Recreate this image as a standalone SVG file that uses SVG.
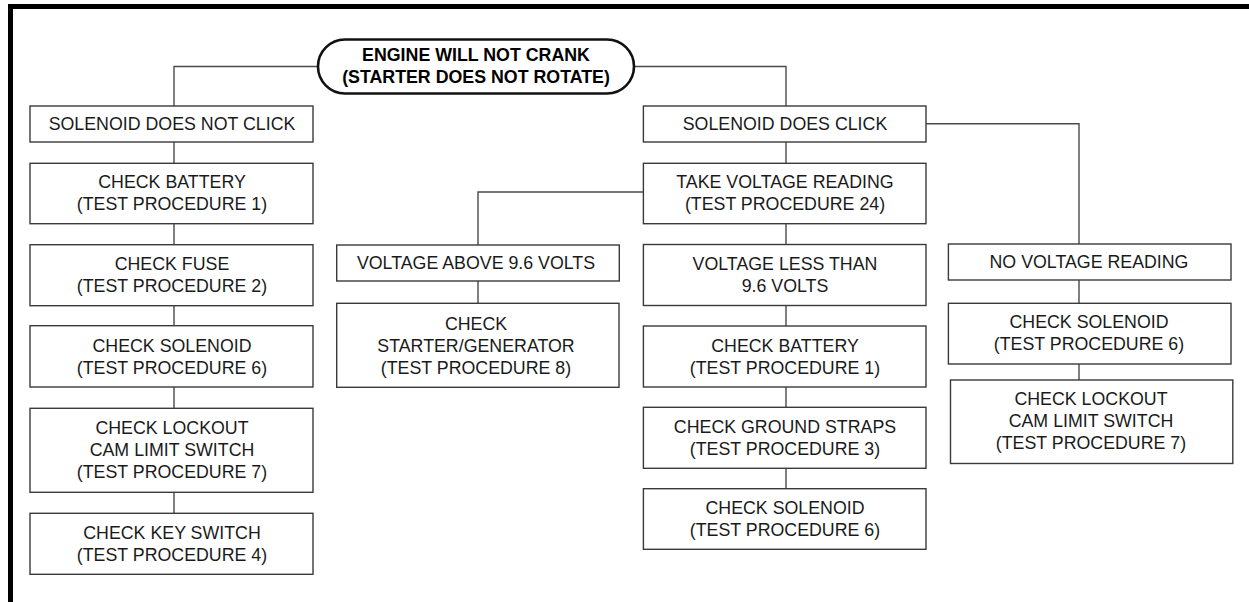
<svg xmlns="http://www.w3.org/2000/svg" width="1249" height="602" viewBox="0 0 1249 602">
<style>
.box{fill:#fff;stroke:#3a3a3a;stroke-width:1.4}
.pill{fill:#fff;stroke:#111;stroke-width:2.6}
.t{font-family:"Liberation Sans",Arial,sans-serif;font-size:17.8px;fill:#1a1a1a;text-anchor:middle}
.b{font-weight:bold;fill:#000}
.conn path{fill:none;stroke:#4a4a4a;stroke-width:1.4}
</style>
<rect x="0" y="0" width="1249" height="602" fill="#fff"/>
<rect x="8" y="4" width="1241" height="5" fill="#000"/>
<rect x="8" y="4" width="5" height="598" fill="#000"/>
<g id="connectors" class="conn">
<path d="M318 66.5H174V106"/>
<path d="M634 66.5H786V106"/>
<path d="M174 142V163.3M174 223.7V244.7M174 305.7V325.7M174 387V408.3M174 492.3V513.3"/>
<path d="M786 142V163.3M786 223.7V244.5M786 305.5V326M786 387V407.3M786 468.3V488.7"/>
<path d="M643.4 192H478V245M478 281V303.3"/>
<path d="M926 123.7H1079V244M1079 280V303.3M1079 364V380"/>
</g>
<g id="start">
<rect class="pill" x="318" y="39.5" width="316" height="54" rx="27" ry="27"/>
<text class="t b" x="476" y="61">ENGINE WILL NOT CRANK</text>
<text class="t b" x="476" y="83">(STARTER DOES NOT ROTATE)</text>
</g>
<g id="n1"><rect class="box" x="30" y="106" width="283" height="36"/><text class="t" x="172" y="129.5">SOLENOID DOES NOT CLICK</text></g>
<g id="n2"><rect class="box" x="30" y="163.3" width="283" height="60.4"/><text class="t" x="172" y="187.5">CHECK BATTERY</text><text class="t" x="172" y="209.5">(TEST PROCEDURE 1)</text></g>
<g id="n3"><rect class="box" x="30" y="244.7" width="283" height="61"/><text class="t" x="172" y="269.7">CHECK FUSE</text><text class="t" x="172" y="291.7">(TEST PROCEDURE 2)</text></g>
<g id="n4"><rect class="box" x="30" y="325.7" width="283" height="61.3"/><text class="t" x="172" y="351.5">CHECK SOLENOID</text><text class="t" x="172" y="373.5">(TEST PROCEDURE 6)</text></g>
<g id="n5"><rect class="box" x="30" y="408.3" width="283" height="84"/><text class="t" x="172" y="433.5">CHECK LOCKOUT</text><text class="t" x="172" y="455.5">CAM LIMIT SWITCH</text><text class="t" x="172" y="477.5">(TEST PROCEDURE 7)</text></g>
<g id="n6"><rect class="box" x="30" y="513.3" width="283" height="61"/><text class="t" x="172" y="538.5">CHECK KEY SWITCH</text><text class="t" x="172" y="560.5">(TEST PROCEDURE 4)</text></g>
<g id="m1"><rect class="box" x="336.7" y="245" width="282.6" height="36"/><text class="t" x="476" y="268.5">VOLTAGE ABOVE 9.6 VOLTS</text></g>
<g id="m2"><rect class="box" x="336.7" y="303.3" width="282.3" height="84"/><text class="t" x="476" y="330">CHECK</text><text class="t" x="476" y="352">STARTER/GENERATOR</text><text class="t" x="476" y="374">(TEST PROCEDURE 8)</text></g>
<g id="r1"><rect class="box" x="643.4" y="106" width="282.6" height="36"/><text class="t" x="785" y="129.5">SOLENOID DOES CLICK</text></g>
<g id="r2"><rect class="box" x="643.4" y="163.3" width="282.6" height="60.4"/><text class="t" x="785" y="188">TAKE VOLTAGE READING</text><text class="t" x="785" y="210">(TEST PROCEDURE 24)</text></g>
<g id="r3"><rect class="box" x="643.4" y="244.5" width="282.6" height="61"/><text class="t" x="785" y="269.5">VOLTAGE LESS THAN</text><text class="t" x="785" y="291.5">9.6 VOLTS</text></g>
<g id="r4"><rect class="box" x="643.4" y="326" width="282.6" height="61"/><text class="t" x="785" y="351.5">CHECK BATTERY</text><text class="t" x="785" y="373.5">(TEST PROCEDURE 1)</text></g>
<g id="r5"><rect class="box" x="643.4" y="407.3" width="282.6" height="61"/><text class="t" x="785" y="432.5">CHECK GROUND STRAPS</text><text class="t" x="785" y="454.5">(TEST PROCEDURE 3)</text></g>
<g id="r6"><rect class="box" x="643.4" y="488.7" width="282.6" height="60.6"/><text class="t" x="785" y="513.5">CHECK SOLENOID</text><text class="t" x="785" y="535.5">(TEST PROCEDURE 6)</text></g>
<g id="f1"><rect class="box" x="948.4" y="244" width="282.6" height="36"/><text class="t" x="1089" y="267.5">NO VOLTAGE READING</text></g>
<g id="f2"><rect class="box" x="948.4" y="303.3" width="282.6" height="60.7"/><text class="t" x="1089" y="328.2">CHECK SOLENOID</text><text class="t" x="1089" y="350.2">(TEST PROCEDURE 6)</text></g>
<g id="f3"><rect class="box" x="950.5" y="380" width="282.3" height="83.5"/><text class="t" x="1091" y="405.3">CHECK LOCKOUT</text><text class="t" x="1091" y="427.3">CAM LIMIT SWITCH</text><text class="t" x="1091" y="449.3">(TEST PROCEDURE 7)</text></g>
</svg>
